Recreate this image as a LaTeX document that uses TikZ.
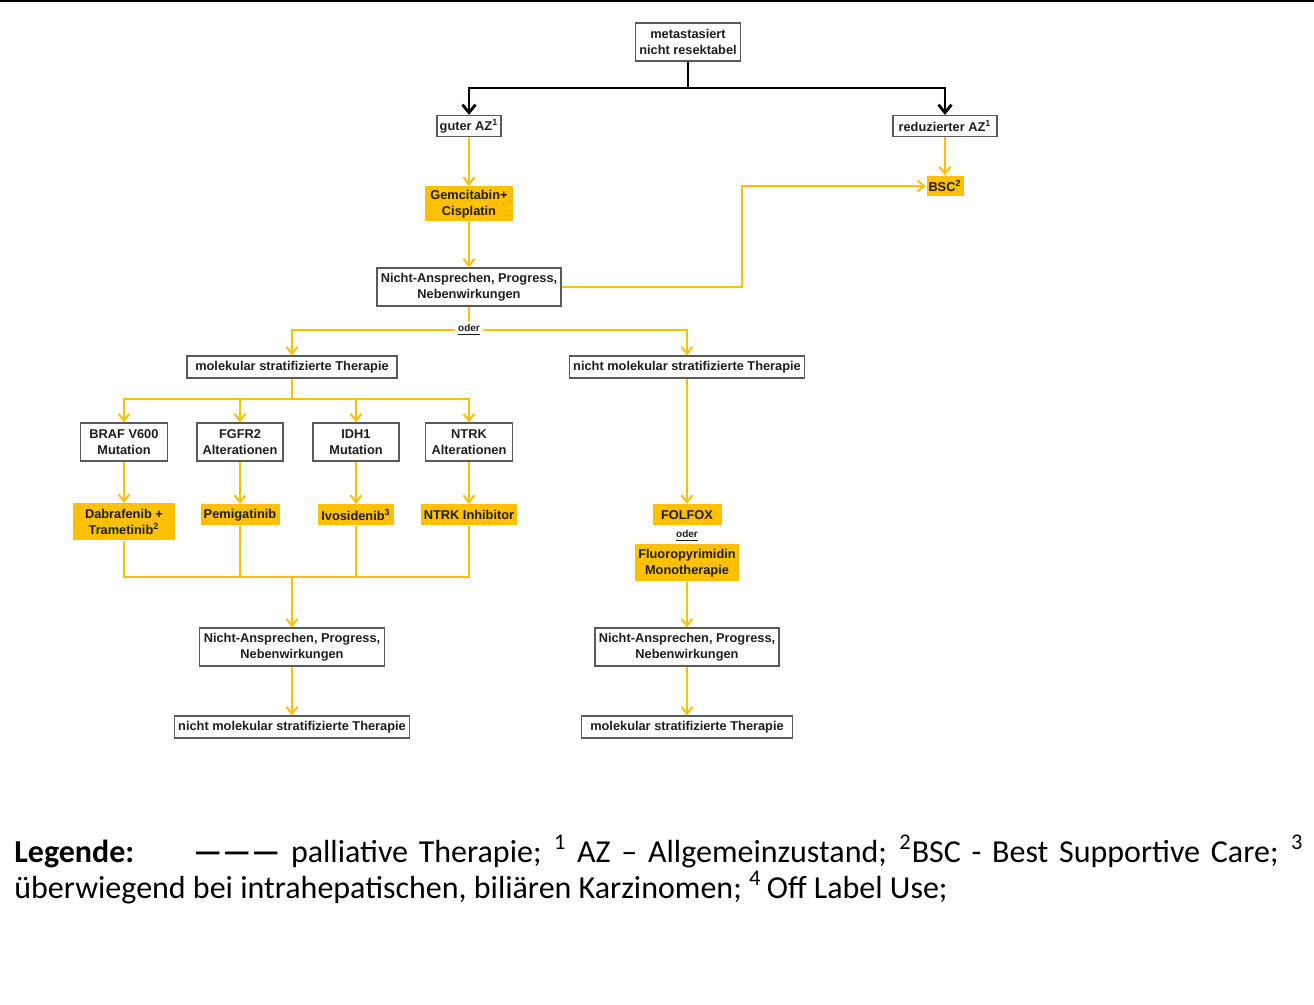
\documentclass[tikz,border=0pt]{standalone}
\usepackage{fontspec}
\setmainfont{Liberation Sans}
\newfontfamily\legfont{Carlito}
\usetikzlibrary{arrows.meta}

\definecolor{gelb}{HTML}{FFC000}
\definecolor{rand}{HTML}{5A5A5A}
\definecolor{schrift}{HTML}{1E1E1E}

\tikzset{
  box/.style={draw=rand, line width=0.6pt, fill=white, align=center, inner sep=1pt,
    text=schrift, font=\fontsize{6.4}{8}\selectfont\bfseries},
  drug/.style={box, draw=none, fill=gelb},
  sz/.style 2 args={minimum width=#1pt, minimum height=#2pt},
  flow/.style={draw=gelb, line width=1pt, -{Straight Barb[length=3.5pt,width=5.5pt]}},
  line/.style={draw=gelb, line width=1pt},
  split/.style={draw=black, line width=1.4pt},
  oder/.style={fill=white, inner sep=1.5pt, text=schrift, font=\fontsize{5}{6}\selectfont\bfseries}
}

\begin{document}
\begin{tikzpicture}[x=0.5pt, y=-0.5pt]
    \useasboundingbox (0,0) rectangle (1314,1005);
    \fill (0,0) rectangle (1314,2.5);

    % Start
    \node[box, sz={52.5}{19}] (meta) at (688,42) {metastasiert\\nicht resektabel};
    \node[box, sz={32}{10.5}] (gut) at (469,126) {guter AZ\textsuperscript{1}};
    \node[box, sz={52}{10.5}] (red) at (945,126) {reduzierter AZ\textsuperscript{1}};
    \node[drug, sz={44}{17.5}] (gem) at (469,204) {Gemcitabin+\\Cisplatin};
    \node[drug, sz={18.5}{10}] (bsc) at (945,186) {BSC\textsuperscript{2}};
    \node[box, sz={92}{19}] (na1) at (469,287) {Nicht-Ansprechen, Progress,\\Nebenwirkungen};
    \node[oder] (oder1) at (469,330) {\underline{oder}};
    \node[box, sz={105}{11}] (mol) at (292,367) {molekular stratifizierte Therapie};
    \node[box, sz={117.5}{11}] (nmol) at (687,367) {nicht molekular stratifizierte Therapie};

    % Molekular
    \node[box, sz={43.5}{19}] (braf) at (124,442) {BRAF V600\\Mutation};
    \node[box, sz={43}{19}] (fgfr) at (240,442) {FGFR2\\Alterationen};
    \node[box, sz={43}{19}] (idh) at (356,442) {IDH1\\Mutation};
    \node[box, sz={43.5}{19}] (ntrk) at (469,442) {NTRK\\Alterationen};
    \node[drug, sz={51}{18.5}] (dab) at (124,522) {Dabrafenib +\\Trametinib\textsuperscript{2}};
    \node[drug, sz={39.5}{10.5}] (pemi) at (240,515) {Pemigatinib};
    \node[drug, sz={38}{10.5}] (ivo) at (356,515) {Ivosidenib\textsuperscript{3}};
    \node[drug, sz={48}{10.5}] (ntrki) at (469,515) {NTRK Inhibitor};
    \node[box, sz={92.5}{19}] (na2) at (292,647) {Nicht-Ansprechen, Progress,\\Nebenwirkungen};
    \node[box, sz={117.5}{11}] (nmol2) at (292,727) {nicht molekular stratifizierte Therapie};

    % Nicht molekular
    \node[drug, sz={34.5}{10.5}] (folfox) at (687,515) {FOLFOX};
    \node[oder] (oder2) at (687,536) {\underline{oder}};
    \node[drug, sz={52}{18.5}] (fluoro) at (687,563) {Fluoropyrimidin\\Monotherapie};
    \node[box, sz={92}{19}] (na3) at (687,647) {Nicht-Ansprechen, Progress,\\Nebenwirkungen};
    \node[box, sz={105.5}{11}] (mol2) at (687,727) {molekular stratifizierte Therapie};

    \coordinate (sj) at (688,88);
    \coordinate (bend) at (742,186);
    \coordinate (mj) at (292,399);
    \coordinate (cj) at (292,577);

    % Edges
    \draw[split] (meta.south) -- (sj);
    \draw[split, -{Straight Barb[length=4pt,width=6.5pt]}] (sj) -| (gut.north);
    \draw[split, -{Straight Barb[length=4pt,width=6.5pt]}] (sj) -| (red.north);
    \draw[flow] (gut) -- (gem);
    \draw[flow] (red) -- (bsc);
    \draw[flow] (gem) -- (na1);
    \draw[flow] (na1.east) -| (bend) -- (bsc.west);
    \draw[line] (na1.south) -- (oder1.north);
    \draw[flow] (oder1.west) -| (mol.north);
    \draw[flow] (oder1.east) -| (nmol.north);
    \draw[line] (mol.south) -- (mj);
    \foreach \n in {braf,fgfr,idh,ntrk}
      \draw[flow] (mj) -| (\n.north);
    \draw[flow] (braf) -- (dab);
    \draw[flow] (fgfr) -- (pemi);
    \draw[flow] (idh) -- (ivo);
    \draw[flow] (ntrk) -- (ntrki);
    \foreach \n in {dab,pemi,ivo,ntrki}
      \draw[line] (\n.south) |- (cj);
    \draw[flow] (cj) -- (na2.north);
    \draw[flow] (na2) -- (nmol2);
    \draw[flow] (nmol) -- (folfox);
    \draw[flow] (fluoro) -- (na3);
    \draw[flow] (na3) -- (mol2);

    % Legende
    \node[anchor=north west, inner sep=0, text width=644.5pt, align=justify,
      font=\legfont\fontsize{16}{18}\selectfont] (leg) at (14,835)
      {\noindent\makebox[89.5pt][l]{\textbf{Legende:}}\textbf{———} palliative Therapie; \textsuperscript{1} AZ – Allgemeinzustand; \textsuperscript{2}BSC - Best Supportive Care; \textsuperscript{3}\linebreak
      überwiegend bei intrahepatischen, biliären Karzinomen; \textsuperscript{4}\,Off Label Use;};
\end{tikzpicture}
\end{document}
